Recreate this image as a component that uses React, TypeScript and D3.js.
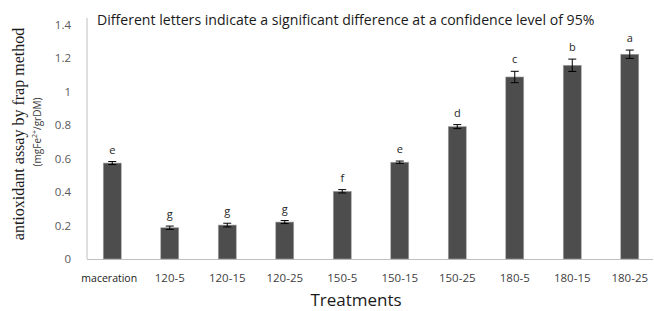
import * as d3 from "d3";

const categories = ["maceration", "120-5", "120-15", "120-25", "150-5", "150-15", "150-25", "180-5", "180-15", "180-25"];
const values = [0.574, 0.187, 0.203, 0.221, 0.405, 0.579, 0.792, 1.089, 1.159, 1.225];
const errors = [0.009, 0.01, 0.011, 0.009, 0.01, 0.007, 0.012, 0.034, 0.037, 0.025];
const letters = ["e", "g", "g", "g", "f", "e", "d", "c", "b", "a"];
const yTicks = [0, 0.2, 0.4, 0.6, 0.8, 1, 1.2, 1.4];

const W = 654;
const H = 311;
const axisX = 87;
const axisRight = 653;
const y0 = 259;
const yTop = 25;

export default function App() {
  const x = d3.scaleBand<string>().domain(categories).range([83.5, 658.5]);
  const y = d3.scaleLinear().domain([0, 1.4]).range([y0, yTop]);
  const barW = 18;
  const capW = 8;

  return (
    <svg width={W} height={H} style={{ position: "absolute", left: 0, top: 0, background: "#fff" }}>
      <text x={97} y={25} fontFamily="'Open Sans', sans-serif" fontSize={14.1} fill="#1a1a1a">
        Different letters indicate a significant difference at a confidence level of 95%
      </text>

      {/* axes */}
      <line x1={axisX} x2={axisX} y1={18} y2={y0} stroke="#bfbfbf" strokeWidth={1} />
      <line x1={axisX} x2={axisRight} y1={y0 + 0.5} y2={y0 + 0.5} stroke="#bfbfbf" strokeWidth={1} />
      {yTicks.map((t) => (
        <text key={t} x={71} y={y(t) + 4} textAnchor="end" fontFamily="'Open Sans', sans-serif" fontSize={11.5} fill="#595959">
          {d3.format("~g")(t)}
        </text>
      ))}

      {categories.map((c, i) => {
        const cx = (x(c) ?? 0) + x.bandwidth() / 2;
        const top = y(values[i]);
        const eHi = y(values[i] + errors[i]);
        const eLo = y(values[i] - errors[i]);
        return (
          <g key={c}>
            <rect x={cx - barW / 2} y={top} width={barW} height={y0 - top} fill="#4d4d4d" stroke="#a6a6a6" strokeWidth={0.6} />
            <line x1={cx} x2={cx} y1={eHi} y2={eLo} stroke="#000" strokeWidth={1} />
            <line x1={cx - capW / 2} x2={cx + capW / 2} y1={eHi} y2={eHi} stroke="#000" strokeWidth={1} />
            <line x1={cx - capW / 2} x2={cx + capW / 2} y1={eLo} y2={eLo} stroke="#000" strokeWidth={1} />
            <text x={cx} y={eHi - 8} textAnchor="middle" fontFamily="'Open Sans', sans-serif" fontSize={11} fill="#262626">
              {letters[i]}
            </text>
            <text
              x={i === 0 ? cx - 3 : cx}
              y={282}
              textAnchor="middle"
              fontFamily="'Open Sans', sans-serif"
              fontSize={i === 0 ? 10.5 : 11.5}
              fill={i === 0 ? "#1a1a1a" : "#404040"}
            >
              {c}
            </text>
          </g>
        );
      })}

      <text x={356} y={306} textAnchor="middle" fontFamily="'Open Sans', sans-serif" fontSize={17} fill="#1a1a1a">
        Treatments
      </text>

      <text
        transform="translate(24,134) rotate(-90)"
        textAnchor="middle"
        fontFamily="'Liberation Serif', serif"
        fontSize={16}
        fill="#1a1a1a"
      >
        antioxidant assay  by frap method
      </text>
      <text
        transform="translate(41,132) rotate(-90)"
        textAnchor="middle"
        fontFamily="'Open Sans', sans-serif"
        fontSize={10}
        fill="#404040"
      >
        (mgFe<tspan baselineShift="super" fontSize={7}>2+</tspan>/grDM)
      </text>
    </svg>
  );
}
